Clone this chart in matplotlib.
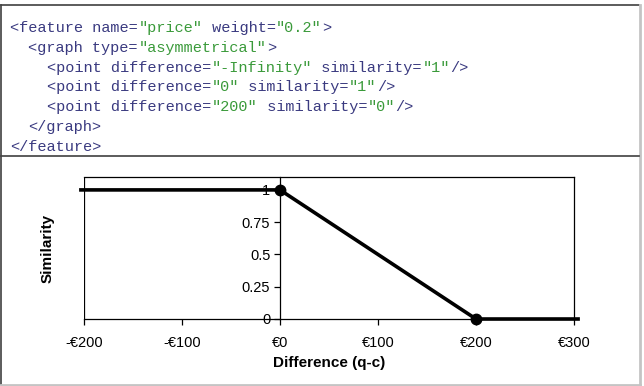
import numpy as np
import matplotlib
matplotlib.use("Agg")
import matplotlib.pyplot as plt
from matplotlib.ticker import FuncFormatter, FixedLocator
from matplotlib.lines import Line2D

# ---- data ----
difference = [-np.inf, 0, 200]
similarity = [1, 1, 0]
x_ticks = [-200, -100, 0, 100, 200, 300]
y_ticks = [0, 0.25, 0.5, 0.75, 1]
y_tick_labels = ["0", "0.25", "0.5", "0.75", "1"]
x_label = "Difference (q-c)"
y_label = "Similarity"

# XML code lines: list of (indent, [(text, kind), ...]) ; kind 't' = tag, 's' = string
code_lines = [
    (0, [('<feature name=', 't'), ('"price"', 's'), (' weight=', 't'), ('"0.2"', 's'), ('>', 't')]),
    (2, [('<graph type=', 't'), ('"asymmetrical"', 's'), ('>', 't')]),
    (4, [('<point difference=', 't'), ('"-Infinity"', 's'), (' similarity=', 't'), ('"1"', 's'), ('/>', 't')]),
    (4, [('<point difference=', 't'), ('"0"', 's'), (' similarity=', 't'), ('"1"', 's'), ('/>', 't')]),
    (4, [('<point difference=', 't'), ('"200"', 's'), (' similarity=', 't'), ('"0"', 's'), ('/>', 't')]),
    (2, [('</graph>', 't')]),
    (0, [('</feature>', 't')]),
]

W, H, DPI = 644, 386, 100
fig = plt.figure(figsize=(W / DPI, H / DPI), dpi=DPI)
fig.patch.set_facecolor("white")

def px(x, y):
    return x / W, 1 - y / H

# ---- frame ----
dark = "#404040"
light = "#c4c4c4"
fig.add_artist(Line2D([px(1, 0)[0], px(639, 0)[0]], [px(0, 5)[1]] * 2, color=dark, lw=1.2, transform=fig.transFigure))
fig.add_artist(Line2D([px(1, 0)[0]] * 2, [px(0, 5)[1], px(0, 384)[1]], color=dark, lw=1.2, transform=fig.transFigure))
fig.add_artist(Line2D([px(640, 0)[0]] * 2, [px(0, 5)[1], px(0, 384)[1]], color=light, lw=2, transform=fig.transFigure))
fig.add_artist(Line2D([px(1, 0)[0], px(640, 0)[0]], [px(0, 384.5)[1]] * 2, color=light, lw=2, transform=fig.transFigure))
fig.add_artist(Line2D([px(1, 0)[0], px(639, 0)[0]], [px(0, 155.5)[1]] * 2, color=dark, lw=1.2, transform=fig.transFigure))

# ---- code text ----
fs_code = 11
char_w = 0.6 * fs_code * DPI / 72.0
colors = {'t': '#3a3a80', 's': '#3a9a3a'}
x0 = 10
base0 = 32
line_step = 19.8
for i, (indent, segs) in enumerate(code_lines):
    col = indent
    yb = base0 + i * line_step
    for txt, kind in segs:
        fx, fy = px(x0 + col * char_w, yb)
        fig.text(fx, fy, txt, family="Liberation Mono", fontsize=fs_code,
                 color=colors[kind], ha="left", va="baseline")
        col += len(txt)

# ---- chart ----
ax_l, ax_r, ax_t, ax_b = 84, 574, 177, 319
ax = fig.add_axes([ax_l / W, 1 - ax_b / H, (ax_r - ax_l) / W, (ax_b - ax_t) / H])
ax.set_xlim(-200, 300)
ax.set_ylim(0, 1.1)

# line (extends slightly beyond the plot frame, as in the reference)
xlo, xhi = ax.get_xlim()
xs = [xlo - 5 if np.isinf(d) else d for d in difference] + [xhi + 6]
ys = list(similarity) + [similarity[-1]]
ax.plot(xs, ys, color="black", lw=2.6, solid_capstyle="butt", clip_on=False, zorder=5)
fin = [i for i, d in enumerate(difference) if np.isfinite(d)]
ax.plot([difference[i] for i in fin], [similarity[i] for i in fin], 'o', color="black",
        ms=7.5, clip_on=False, zorder=6)

for s in ax.spines.values():
    s.set_linewidth(0.9)
    s.set_color("black")
ax.spines["left"].set_position(("data", 0))
ax.axvline(xlo, color="black", lw=0.9, zorder=1)

ax.xaxis.set_major_locator(FixedLocator(x_ticks))
ax.xaxis.set_major_formatter(FuncFormatter(lambda v, p: ("-€%d" % abs(v)) if v < 0 else "€%d" % v))
ax.set_yticks(y_ticks)
ax.set_yticklabels(y_tick_labels)
ax.tick_params(axis="x", direction="out", length=4, width=0.9, pad=8, labelsize=10.5)
ax.tick_params(axis="y", direction="out", length=4, width=0.9, pad=3, labelsize=10.5)
for lab in ax.get_xticklabels() + ax.get_yticklabels():
    lab.set_family("Liberation Sans")

fx, fy = px((ax_l + ax_r) / 2, 363)
fig.text(fx, fy, x_label, family="Liberation Sans", fontsize=11, fontweight="bold",
         ha="center", va="center")
fx, fy = px(48, (ax_t + ax_b) / 2)
fig.text(fx, fy, y_label, family="Liberation Sans", fontsize=11, fontweight="bold",
         ha="center", va="center", rotation=90)

fig.savefig("out.png", dpi=DPI, facecolor="white")
